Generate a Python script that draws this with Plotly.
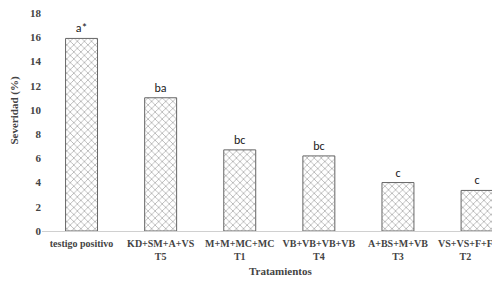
import plotly.graph_objects as go

categories = ["testigo positivo", "KD+SM+A+VS<br>T5", "M+M+MC+MC<br>T1",
              "VB+VB+VB+VB<br>T4", "A+BS+M+VB<br>T3", "VS+VS+F+F<br>T2"]
severidad = [15.9, 11.0, 6.7, 6.2, 4.0, 3.35]
letras = ["a*", "ba", "bc", "bc", "c", "c"]
y_ticks = [0, 2, 4, 6, 8, 10, 12, 14, 16, 18]

serif = "Liberation Serif, Times New Roman, serif"
W, H = 500, 281
L, T, B, R = 33.5, 5, 58, 8
pw, ph = W - L - R, H - T - B

xs = list(range(len(categories)))
# last label is shifted left to stay inside the chart (as in the original)
ticktext = ["<b>%s</b>" % c.replace("<br>", "</b><br><b>") for c in categories[:-1]] + [""]

fig = go.Figure(go.Bar(
    x=xs,
    y=severidad,
    width=0.404,
    text=letras,
    textposition="outside",
    textfont=dict(family="Carlito, Calibri, Liberation Sans, sans-serif", size=12, color="#222"),
    cliponaxis=False,
    marker=dict(
        color="white",
        line=dict(color="#666666", width=1),
        pattern=dict(shape="x", fgcolor="#666666", bgcolor="white", size=5, solidity=0.3),
    ),
))

fig.update_layout(
    width=W, height=H,
    margin=dict(l=L, r=R, t=T, b=B, autoexpand=False),
    paper_bgcolor="white", plot_bgcolor="white",
    showlegend=False,
    xaxis=dict(
        tickmode="array", tickvals=xs, ticktext=ticktext,
        range=[-0.5, 5.29],
        showline=True, linecolor="#d0d0d0", linewidth=1,
        ticks="", showgrid=False, zeroline=False,
        ticklabeloverflow="allow", automargin=False, ticklabelstandoff=3,
        tickfont=dict(family=serif, size=10, color="#444"),
    ),
    yaxis=dict(
        range=[0, 18], tickvals=y_ticks,
        ticktext=["<b>%d</b>" % v for v in y_ticks],
        showgrid=False, zeroline=False, showline=False, ticks="",
        ticklabeloverflow="allow", automargin=False,
        tickfont=dict(family=serif, size=11, color="#444"),
    ),
    annotations=[
        dict(text="<b>" + categories[-1].replace("<br>", "</b><br><b>") + "</b>",
             x=xs[-1], y=0, xref="x", yref="paper", xanchor="center", yanchor="top",
             xshift=-12, yshift=-5, showarrow=False,
             font=dict(family=serif, size=10, color="#444")),
        dict(text="<b>Tratamientos</b>", x=(272 - L) / pw, y=-(263 - (T + ph)) / ph,
             xref="paper", yref="paper", xanchor="center", yanchor="middle",
             showarrow=False, font=dict(family=serif, size=11, color="#444")),
        dict(text="<b>Severidad (%)</b>", x=(5 - L) / pw, y=((T + ph) - 103) / ph,
             xref="paper", yref="paper", xanchor="center", yanchor="middle",
             showarrow=False, textangle=-90, font=dict(family=serif, size=11, color="#444")),
    ],
)
fig.write_html("out.html")
